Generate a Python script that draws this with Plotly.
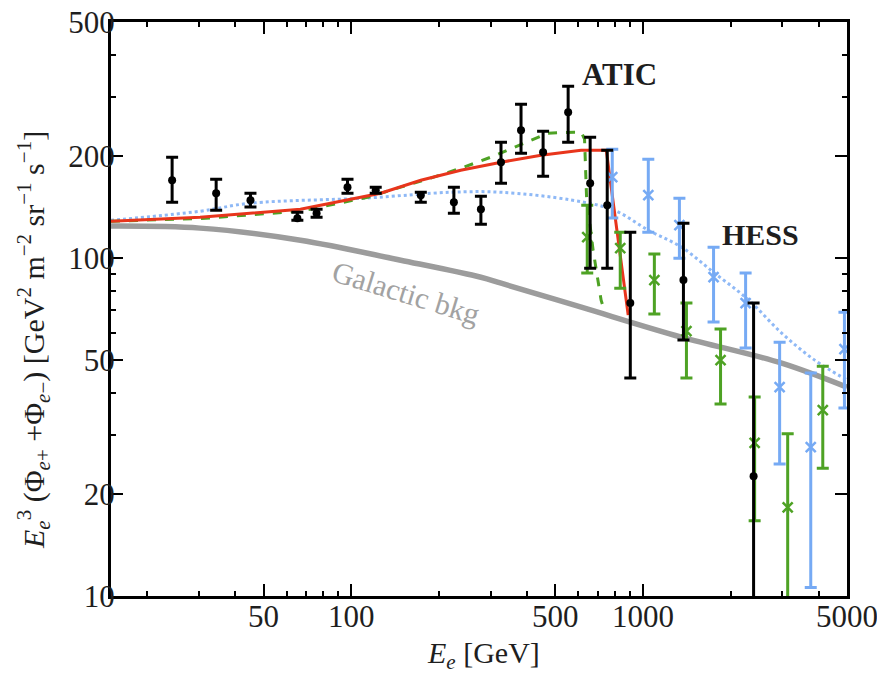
import math
import plotly.graph_objects as go

# ---------------- data ----------------
# Galactic background (grey)
bkg_x = [15, 30.3, 66.9, 147.6, 278, 326, 614, 1353, 2985, 5000]
bkg_y = [124.4, 122.7, 113.0, 98.6, 87.8, 84.3, 71.6, 58.4, 48.9, 41.5]

# blue dotted model
blue_x = [15, 30.3, 45, 113.8, 219, 326, 567, 795, 1042, 1353, 1758, 2300, 2985, 3875, 5000]
blue_y = [129.4, 137.7, 145.4, 150.7, 156.7, 156.7, 148.6, 138.7, 121.0, 107.8, 90.3, 75.2, 60.0, 49.9, 43.6]

# red solid model
red_x = [15, 30.3, 66.9, 126, 173, 237, 326, 447, 613, 748, 889]
red_y = [128.7, 132.2, 139.6, 155.7, 170.1, 182.1, 192.3, 201.7, 208.7, 208.7, 67.8]

# green dashed model
green_x = [15, 30.3, 66.9, 113.8, 147.6, 187, 237, 300.6, 413, 472, 581, 614, 630, 640, 674, 718, 736]
green_y = [128.7, 130.9, 137.8, 151.4, 162.2, 172.5, 184.5, 199.0, 223.4, 234.3, 236.0, 236.0, 225.0, 152.0, 105.6, 75.1, 70.2]

# ATIC (black points)
atic_x = [24.3, 34.4, 45.1, 65.3, 76, 97, 121.2, 173, 224.6, 278, 325.8, 381.6, 454.2, 553.5,
          658.5, 753.5, 904, 1375, 2392]
atic_y = [170.1, 155.7, 148.5, 131.3, 135.9, 162.2, 158.9, 153.6, 146.4, 139.6, 192.3, 239.1, 205.9, 270.4,
          166.7, 143.5, 73.6, 86.1, 22.6]
atic_hi = [199, 171.3, 155.7, 136.8, 139.6, 171.3, 162.2, 156.7, 162.2, 152.5, 220.4, 285.5, 237.5, 322.8,
           228, 208.7, 119.4, 126.9, 73.6]
atic_lo = [146.4, 138.7, 141.6, 129.5, 132.2, 155.7, 155.7, 146.4, 135.9, 126.0, 166.7, 204.5, 174.8, 220.4,
           93.4, 93.4, 44.2, 57.2, 1.0]

# HESS (blue crosses)
hess_x = [784, 1042, 1332, 1744, 2246, 2938, 3756, 4900]
hess_y = [173.6, 153.6, 125.2, 87.8, 73.6, 41.5, 27.6, 53.8]
hess_hi = [210.2, 196.3, 150.5, 107.8, 90.3, 56.4, 45.7, 69.2]
hess_lo = [131.5, 119.4, 100.0, 64.7, 54.2, 24.6, 10.6, 36.0]

# HESS low-energy analysis (green crosses)
hl_x = [643.5, 835, 1093, 1408, 1843, 2412, 3131, 4130]
hl_y = [115.4, 107.1, 86.1, 60.8, 49.9, 28.4, 18.3, 35.5]
hl_hi = [143.5, 119.4, 102.8, 73.6, 61.7, 38.8, 30.2, 47.9]
hl_lo = [90.3, 81.5, 68.3, 44.2, 37.0, 16.7, 1.0, 23.9]

x_ticks = [50, 100, 500, 1000, 5000]
y_ticks = [10, 20, 50, 100, 200, 500]
x_minor = [20, 30, 40, 60, 70, 80, 90, 200, 300, 400, 600, 700, 800, 900, 2000, 3000, 4000]
y_minor = [30, 40, 60, 70, 80, 90, 300, 400]

# ---------------- styles ----------------
FONT = "Liberation Serif"
BLACK = "#000000"
TXT = "#1e1e1e"
GREY = "#9c9c9c"
BLUE = "#76aaf4"
BLUE_LINE = "#8fb9f6"
GREEN = "#4ea224"
RED = "#e8351c"


def errs(y, hi, lo):
    return dict(type="data", symmetric=False,
                array=[h - v for v, h in zip(y, hi)],
                arrayminus=[v - l for v, l in zip(y, lo)])


fig = go.Figure()

fig.add_trace(go.Scatter(x=bkg_x, y=bkg_y, mode="lines", line=dict(color=GREY, width=5.5, shape="spline"),
                         showlegend=False, hoverinfo="skip"))
fig.add_trace(go.Scatter(x=blue_x, y=blue_y, mode="lines",
                         line=dict(color=BLUE_LINE, width=3, dash="dot", shape="spline"),
                         showlegend=False))
fig.add_trace(go.Scatter(x=green_x, y=green_y, mode="lines",
                         line=dict(color=GREEN, width=3, dash="dash"), showlegend=False))
fig.add_trace(go.Scatter(x=red_x, y=red_y, mode="lines", line=dict(color=RED, width=3),
                         showlegend=False))

e = errs(hl_y, hl_hi, hl_lo)
e.update(color=GREEN, thickness=3, width=6)
fig.add_trace(go.Scatter(x=hl_x, y=hl_y, mode="markers", error_y=e,
                         marker=dict(symbol="x-thin", size=10, color=GREEN,
                                     line=dict(width=2.5, color=GREEN)),
                         showlegend=False))

e = errs(hess_y, hess_hi, hess_lo)
e.update(color=BLUE, thickness=3, width=6)
fig.add_trace(go.Scatter(x=hess_x, y=hess_y, mode="markers", error_y=e,
                         marker=dict(symbol="x-thin", size=10, color=BLUE,
                                     line=dict(width=2.5, color=BLUE)),
                         showlegend=False))

e = errs(atic_y, atic_hi, atic_lo)
e.update(color=BLACK, thickness=3, width=6)
fig.add_trace(go.Scatter(x=atic_x, y=atic_y, mode="markers", error_y=e,
                         marker=dict(symbol="circle", size=8, color=BLACK),
                         showlegend=False))

axis_common = dict(
    type="log", showline=True, linecolor=BLACK, linewidth=3, mirror="allticks",
    ticks="inside", ticklen=12, tickwidth=2, tickcolor=BLACK,
    showgrid=False, zeroline=False, ticklabeloverflow="allow", automargin=False,
    tickfont=dict(family=FONT, size=31, color=TXT),
)

fig.update_xaxes(range=[math.log10(15), math.log10(5000) + 1e-6], tickmode="array",
                 tickvals=x_ticks, ticktext=[str(v) for v in x_ticks], ticklabelstandoff=-9,
                 minor=dict(tickmode="array", tickvals=x_minor, ticks="inside", ticklen=5,
                            tickwidth=2, tickcolor=BLACK, showgrid=False),
                 **axis_common)
fig.update_yaxes(range=[1 - 1e-6, math.log10(500) + 1e-6], tickmode="array",
                 tickvals=y_ticks, ticktext=[str(v) for v in y_ticks], ticklabelstandoff=-13,
                 minor=dict(tickmode="array", tickvals=y_minor, ticks="inside", ticklen=5,
                            tickwidth=2, tickcolor=BLACK, showgrid=False),
                 **axis_common)

# plot area in the screenshot: x 111..847, y 22..596 (page has an 8px body margin)
PL, PR, PT, PB = 111, 847, 22, 596


def px(xp):
    return (xp - PL) / (PR - PL)


def py(yp):
    return (PB - yp) / (PB - PT)


annotations = [
    dict(text="<b>ATIC</b>", x=math.log10(830), y=math.log10(350), xref="x", yref="y",
         font=dict(family=FONT, size=31, color=TXT)),
    dict(text="<b>HESS</b>", x=math.log10(2530), y=math.log10(117.8), xref="x", yref="y",
         font=dict(family=FONT, size=30, color=TXT)),
    dict(text="Galactic bkg", x=math.log10(153.6), y=math.log10(79.3), xref="x", yref="y",
         textangle=17, font=dict(family=FONT, size=30, color="#a2a2a2")),
    dict(text="<i>E</i><sub><i>e</i></sub> [GeV]", x=px(483), y=py(655),
         xref="paper", yref="paper", font=dict(family=FONT, size=30, color=TXT)),
    dict(text="<i>E</i><sub><i>e</i></sub><sup>3</sup> (Φ<sub><i>e</i>+</sub> +Φ<sub><i>e</i>−</sub>) "
              "[GeV<sup>2</sup> m<sup>−2</sup> sr<sup>−1</sup> s<sup>−1</sup>]",
         x=px(33), y=py(340), xref="paper", yref="paper", textangle=-90,
         font=dict(family=FONT, size=30, color=TXT)),
]
for a in annotations:
    a.update(showarrow=False, xanchor="center", yanchor="middle")

fig.update_layout(
    width=885, height=675,
    margin=dict(l=PL - 8, r=885 - (PR - 8), t=PT - 8, b=675 - (PB - 8), autoexpand=False),
    paper_bgcolor="white", plot_bgcolor="white",
    annotations=annotations,
    showlegend=False,
)

fig.write_html("out.html")
